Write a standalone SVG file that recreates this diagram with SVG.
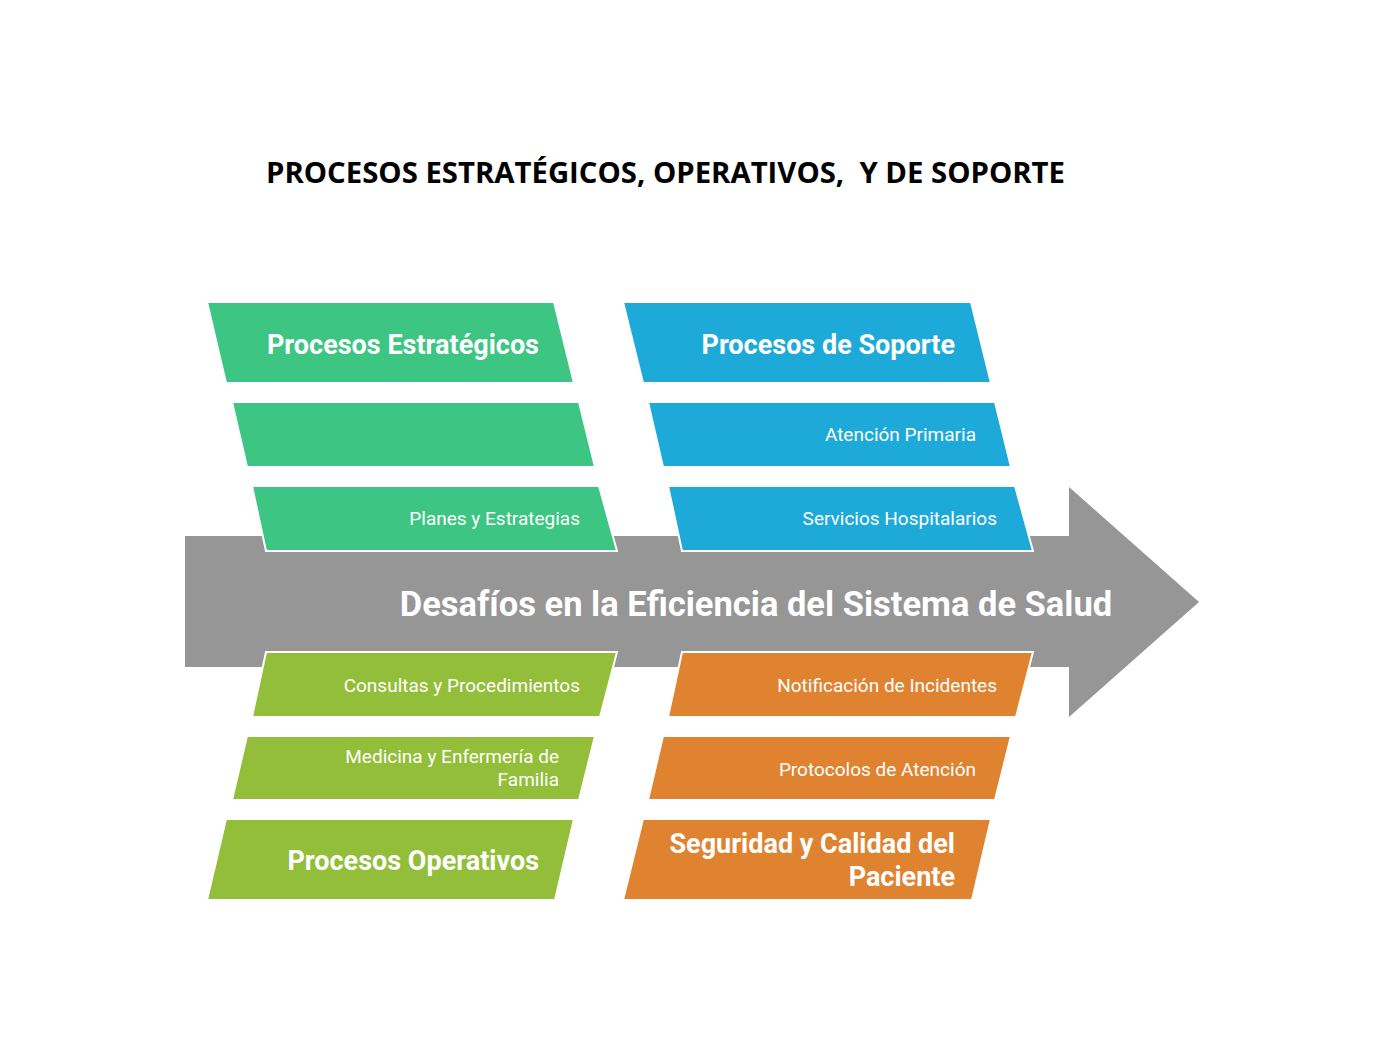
<svg xmlns="http://www.w3.org/2000/svg" width="1385" height="1039" viewBox="0 0 1385 1039">
<style>
.box{stroke:#ffffff;stroke-width:2;stroke-linejoin:miter}
.strat{fill:#3DC583}
.sop{fill:#1EAAD9}
.oper{fill:#92BE3A}
.seg{fill:#DF8331}
.hd{font-family:Roboto,"Noto Sans",sans-serif;font-weight:bold;font-size:27px;fill:#ffffff;text-anchor:end}
.it{font-family:Roboto,"Noto Sans",sans-serif;font-size:19px;fill:#ffffff;text-anchor:end}
</style>
<rect width="1385" height="1039" fill="#ffffff"/>
<text x="665.5" y="183" font-family="'Open Sans','Liberation Sans',sans-serif" font-weight="bold" font-size="29" fill="#000000" text-anchor="middle" textLength="799" lengthAdjust="spacingAndGlyphs" xml:space="preserve">PROCESOS ESTRATÉGICOS, OPERATIVOS,  Y DE SOPORTE</text>
<g id="arrow">
<polygon points="185,536 1069,536 1069,487 1199,602 1069,717 1069,667 185,667" fill="#969696"/>
<text x="756" y="616" font-family="Roboto,'Noto Sans',sans-serif" font-weight="bold" font-size="34.5" fill="#ffffff" text-anchor="middle">Desafíos en la Eficiencia del Sistema de Salud</text>
</g>
<g id="estrategicos">
<polygon class="box strat" points="207,302 554,302 574,383 226,383"/>
<text class="hd" x="539" y="354">Procesos Estratégicos</text>
</g>
<g id="estrategicos-2">
<polygon class="box strat" points="232,402 579,402 595,467 247,467"/>
</g>
<g id="planes">
<polygon class="box strat" points="252,486 599,486 617,551 266,551"/>
<text class="it" x="580" y="525">Planes y Estrategias</text>
</g>
<g id="soporte">
<polygon class="box sop" points="623,302 971,302 991,383 643,383"/>
<text class="hd" x="955" y="354">Procesos de Soporte</text>
</g>
<g id="atencion-primaria">
<polygon class="box sop" points="648,402 995,402 1011,467 663,467"/>
<text class="it" x="976" y="441">Atención Primaria</text>
</g>
<g id="servicios">
<polygon class="box sop" points="668,486 1015,486 1033,551 682,551"/>
<text class="it" x="997" y="525">Servicios Hospitalarios</text>
</g>
<g id="consultas">
<polygon class="box oper" points="266,652 617,652 600,717 252,717"/>
<text class="it" x="580" y="692">Consultas y Procedimientos</text>
</g>
<g id="medicina">
<polygon class="box oper" points="247,736 595,736 579,800 232,800"/>
<text class="it" x="559" y="763">Medicina y Enfermería de</text>
<text class="it" x="559" y="786">Familia</text>
</g>
<g id="operativos">
<polygon class="box oper" points="226,819 574,819 555,900 207,900"/>
<text class="hd" x="539" y="870">Procesos Operativos</text>
</g>
<g id="notificacion">
<polygon class="box seg" points="682,652 1033,652 1016,717 668,717"/>
<text class="it" x="997" y="692">Notificación de Incidentes</text>
</g>
<g id="protocolos">
<polygon class="box seg" points="663,736 1011,736 995,800 648,800"/>
<text class="it" x="976" y="776">Protocolos de Atención</text>
</g>
<g id="seguridad">
<polygon class="box seg" points="643,819 991,819 972,900 623,900"/>
<text class="hd" x="955" y="853">Seguridad y Calidad del</text>
<text class="hd" x="955" y="886">Paciente</text>
</g>
<g id="connectors"></g>
</svg>
